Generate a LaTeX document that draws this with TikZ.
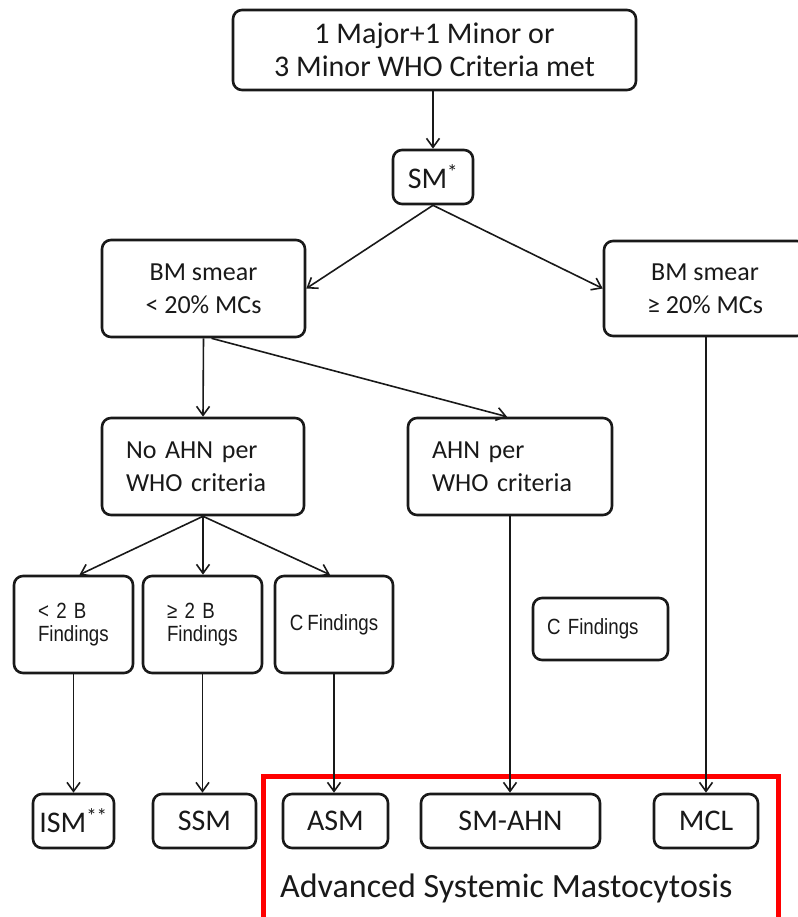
\documentclass[tikz,border=0pt]{standalone}
\usepackage{fontspec}
\setmainfont{Carlito}
\newfontfamily\narrowfont[FakeStretch=0.85,WordSpace=0.8]{Liberation Sans}
\usetikzlibrary{arrows.meta,calc}
\definecolor{framered}{RGB}{255,0,0}
\definecolor{ink}{RGB}{25,25,25}
\begin{document}
\begin{tikzpicture}[x=1pt,y=-1pt,
  box/.style={draw=ink, line width=2.6pt, rounded corners=9pt, inner sep=0pt, align=center, text=ink},
  bigtext/.style={font=\fontsize{30}{33}\selectfont},
  midtext/.style={font=\fontsize{26}{33}\selectfont},
  findtext/.style={font=\narrowfont\fontsize{22}{23}\selectfont},
  conn/.style={draw=ink, line width=1.6pt, -{Straight Barb[length=9pt,width=13pt]}}]
\useasboundingbox (0,0) rectangle (797,917);

% boxes
\node[box, bigtext, minimum width=403pt, minimum height=80pt] (top) at (434.5,50) {1 Major+1 Minor or\\3 Minor WHO Criteria met};
\node[box, bigtext, minimum width=80pt, minimum height=54pt] (sm) at (433,177) {SM\textsuperscript{*}};
\node[box, midtext, minimum width=203pt, minimum height=97pt] (bml) at (203.5,288.5) {BM smear\\< 20\% MCs};
\node[box, midtext, minimum width=202pt, minimum height=95pt] (bmr) at (705,288.5) {BM smear\\≥ 20\% MCs};
\node[box, midtext, minimum width=202pt, minimum height=97pt, text width=154pt, align=left] (nah) at (203,466.5) {No AHN per\\WHO criteria};
\node[box, midtext, minimum width=204pt, minimum height=97pt, text width=156pt, align=left] (ahn) at (510,466.5) {AHN per\\WHO criteria};
\node[box, findtext, minimum width=119pt, minimum height=97pt, text width=71pt, align=left] (f1) at (73.5,624.5) {< 2 B\\Findings\\[8pt]};
\node[box, findtext, minimum width=119pt, minimum height=97pt, text width=71pt, align=left] (f2) at (202.5,624.5) {≥ 2 B\\Findings\\[8pt]};
\node[box, findtext, minimum width=118pt, minimum height=97pt] (f3) at (334,624.5) {C Findings};
\node[box, findtext, minimum width=135pt, minimum height=62pt, text width=107pt, align=left] (cf) at (600.5,629) {C Findings};

\node[box, bigtext, minimum width=81pt, minimum height=54pt] (ism) at (73.5,821) {ISM\textsuperscript{**}};
\node[box, bigtext, minimum width=103pt, minimum height=54pt] (ssm) at (204.5,821) {SSM};
\node[box, bigtext, minimum width=105pt, minimum height=54pt] (asm) at (335.5,821) {ASM};
\node[box, bigtext, minimum width=179pt, minimum height=54pt] (smahn) at (510.5,821) {SM-AHN};
\node[box, bigtext, minimum width=104pt, minimum height=54pt] (mcl) at (706,821) {MCL};

% advanced SM frame
\draw[framered, line width=5pt] (263,935) -- (263,776) -- (778,776) -- (778,935);
\node[anchor=base west, inner sep=0pt, text=ink, font=\fontsize{34}{40}\selectfont] (adv) at (280,897) {Advanced Systemic Mastocytosis};

% connectors
\draw[conn] (sm.north |- top.south) -- (sm.north);
\draw[conn] (sm.south) -- (bml.east);
\draw[conn] (sm.south) -- (bmr.west);
\draw[conn] (bml.south) -- (nah.north);
\draw[conn] ($(bml.south)+(8,0)$) -- ($(ahn.north)+(-3,0)$);
\draw[conn] (nah.south) -- ($(f1.north)+(6,0)$);
\draw[conn] (nah.south) -- (nah.south |- f2.north);
\draw[conn] (nah.south) -- ($(f3.north)+(-4,0)$);
\draw[conn] (f1.south) -- (ism.north);
\draw[conn] (f2.south) -- (f2.south |- ssm.north);
\draw[conn] (f3.south) -- (f3.south |- asm.north);
\draw[conn] (ahn.south) -- (ahn.south |- smahn.north);
\draw[conn] (mcl.north |- bmr.south) -- (mcl.north);
\end{tikzpicture}
\end{document}
